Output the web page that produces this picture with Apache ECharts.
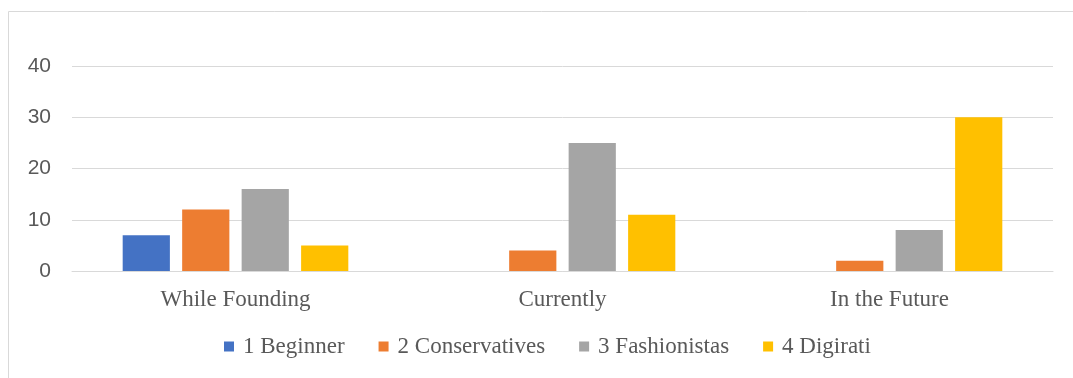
<!DOCTYPE html>
<html><head><meta charset="utf-8">
<script src="https://cdn.jsdelivr.net/npm/echarts@6/dist/echarts.min.js"></script>
<style>html,body{margin:0;padding:0;background:#fff}#c{width:1073px;height:378px}</style>
</head><body><div id="c"></div>
<script>
const categories = ['While Founding', 'Currently', 'In the Future'];
const seriesNames = ['1 Beginner', '2 Conservatives', '3 Fashionistas', '4 Digirati'];
const beginner = [7, 0, 0];
const conservatives = [12, 4, 2];
const fashionistas = [16, 25, 8];
const digirati = [5, 11, 30];
const colors = ['#4472C4', '#ED7D31', '#A5A5A5', '#FFC000'];
const values = [beginner, conservatives, fashionistas, digirati];

const chart = echarts.init(document.getElementById('c'));
chart.setOption({
  animation: false,
  color: colors,
  graphic: [{
    type: 'polyline', shape: { points: [[8.5, 400], [8.5, 11.5], [1080, 11.5]] },
    style: { stroke: '#D9D9D9', lineWidth: 1, fill: null }, silent: true
  }],
  grid: { left: 72, right: 20, top: 66, bottom: 107, containLabel: false },
  legend: {
    bottom: 15, left: 219, itemWidth: 10, itemHeight: 10, itemGap: 34,
    icon: 'rect',
    textStyle: { fontFamily: 'Liberation Serif', fontSize: 23, color: '#595959', padding: [0, 0, 0, 4] },
    data: seriesNames
  },
  xAxis: {
    type: 'category', data: categories,
    axisLine: { show: true, lineStyle: { color: '#D9D9D9', width: 1 } },
    axisTick: { show: false },
    axisLabel: { fontFamily: 'Liberation Serif', fontSize: 23, color: '#595959', margin: 17 }
  },
  yAxis: {
    type: 'value', min: 0, max: 40, interval: 10,
    axisLine: { show: false }, axisTick: { show: false },
    splitLine: { lineStyle: { color: '#D9D9D9', width: 1 } },
    axisLabel: { fontFamily: 'Liberation Sans', fontSize: 21, color: '#595959', margin: 21 }
  },
  series: seriesNames.map((n, i) => ({
    name: n, type: 'bar', data: values[i],
    barGap: '26%', barCategoryGap: '31%'
  }))
});
</script></body></html>
